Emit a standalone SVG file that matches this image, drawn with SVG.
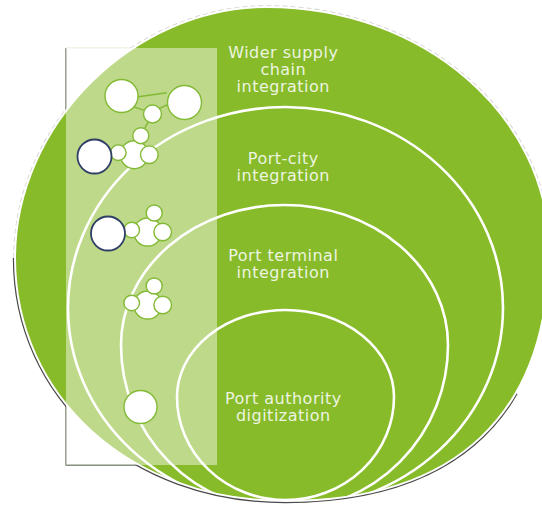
<svg xmlns="http://www.w3.org/2000/svg" width="542" height="506" viewBox="0 0 542 506">
<defs>
<style>
.lbl{font-family:"DejaVu Sans",Verdana,sans-serif;font-size:16px;letter-spacing:0.5px;fill:#edf4e0;text-anchor:middle}
.ring{fill:none;stroke:#ffffff;stroke-width:2.6}
.ic{fill:#ffffff;stroke:#82b935;stroke-width:1.4}
.dk{fill:#ffffff;stroke:#2f3f66;stroke-width:1.8}
.ln{stroke:#82b935;stroke-width:1.4;fill:none}
</style>
<clipPath id="inEgg"><path d="M267,7 C423,7 549,116 549,250 C549,413 457,501 285,501 C131,501 15,397 15,258 C15,125 133,7 267,7 Z"/></clipPath>
<clipPath id="noRect"><path clip-rule="evenodd" d="M0,0H542V506H0Z M66,48V465H217V48Z"/></clipPath>
<g id="cluster">
<circle class="ic" cx="16" cy="2" r="14"/>
<circle class="ic" cx="0" cy="0" r="7.8"/>
<circle class="ic" cx="22.5" cy="-17" r="8"/>
<circle class="ic" cx="31" cy="2" r="8.8"/>
</g>
</defs>
<rect width="542" height="506" fill="#ffffff"/>
<g id="panel-frame">
<path d="M66,48V465H217" fill="none" stroke="#66705a" stroke-width="1.3"/>
<path d="M66,48H217" fill="none" stroke="#dfe8d2" stroke-width="1"/>
</g>
<g id="outline">
<path d="M15,258 C15,125 133,7 267,7 C423,7 549,116 549,250" fill="none" stroke="#d2d2d2" stroke-width="3.6" stroke-dasharray="5 3" clip-path="url(#noRect)"/>
<path d="M15,258 C15,397 131,501 285,501 C396.8,501 474.8,463.8 515.7,393" fill="none" stroke="#4a4a4a" stroke-width="4.4" clip-path="url(#noRect)"/>
</g>
<g id="node-wider-supply-chain">
<path d="M267,7 C423,7 549,116 549,250 C549,413 457,501 285,501 C131,501 15,397 15,258 C15,125 133,7 267,7 Z" fill="#87bb29" stroke="#ffffff" stroke-width="2"/>
</g>
<g clip-path="url(#inEgg)">
<g id="node-port-city"><ellipse class="ring" cx="285.5" cy="308" rx="217.5" ry="201"/></g>
<g id="node-port-terminal"><path class="ring" d="M121,345 A163.5,140 0 0 1 448,345 A163.5,165 0 0 1 121,345 Z"/></g>
<g id="node-port-authority"><path class="ring" d="M177,397 A108.5,87 0 0 1 394,397 A108.5,103 0 0 1 177,397 Z"/></g>
</g>
<rect id="panel" x="66" y="48" width="151" height="417" fill="#ffffff" fill-opacity="0.45"/>
<g id="connectors">
<path class="ln" d="M138.3,96.7 L166.7,92.7"/>
<path class="ln" d="M130,105.7 L145,110.7"/>
<path class="ln" d="M159.3,108.3 L169.3,104"/>
<path class="ln" d="M148.2,121.9 L143.8,130"/>
</g>
<g id="icon-wider-supply-chain">
<circle class="ic" cx="121.5" cy="96" r="16.5"/>
<circle class="ic" cx="184.5" cy="102.5" r="17"/>
<circle class="ic" cx="152.5" cy="114" r="9"/>
</g>
<g id="icon-port-city">
<use href="#cluster" transform="translate(118.3,152.7)"/>
<circle class="dk" cx="94.5" cy="156.5" r="17"/>
</g>
<g id="icon-port-terminal-a">
<use href="#cluster" transform="translate(131.7,230)"/>
<circle class="dk" cx="108" cy="233.5" r="17"/>
</g>
<g id="icon-port-terminal-b">
<use href="#cluster" transform="translate(131.7,303)"/>
</g>
<g id="icon-port-authority">
<circle class="ic" cx="140.5" cy="407" r="16.5"/>
</g>
<g id="labels">
<text class="lbl" x="283.3" y="58">Wider supply</text>
<text class="lbl" x="283.3" y="75">chain</text>
<text class="lbl" x="283.3" y="92">integration</text>
<text class="lbl" x="283.3" y="164">Port-city</text>
<text class="lbl" x="283.3" y="180.5">integration</text>
<text class="lbl" x="283.3" y="261">Port terminal</text>
<text class="lbl" x="283.3" y="277.5">integration</text>
<text class="lbl" x="283.3" y="404">Port authority</text>
<text class="lbl" x="283.3" y="420.5">digitization</text>
</g>
</svg>
